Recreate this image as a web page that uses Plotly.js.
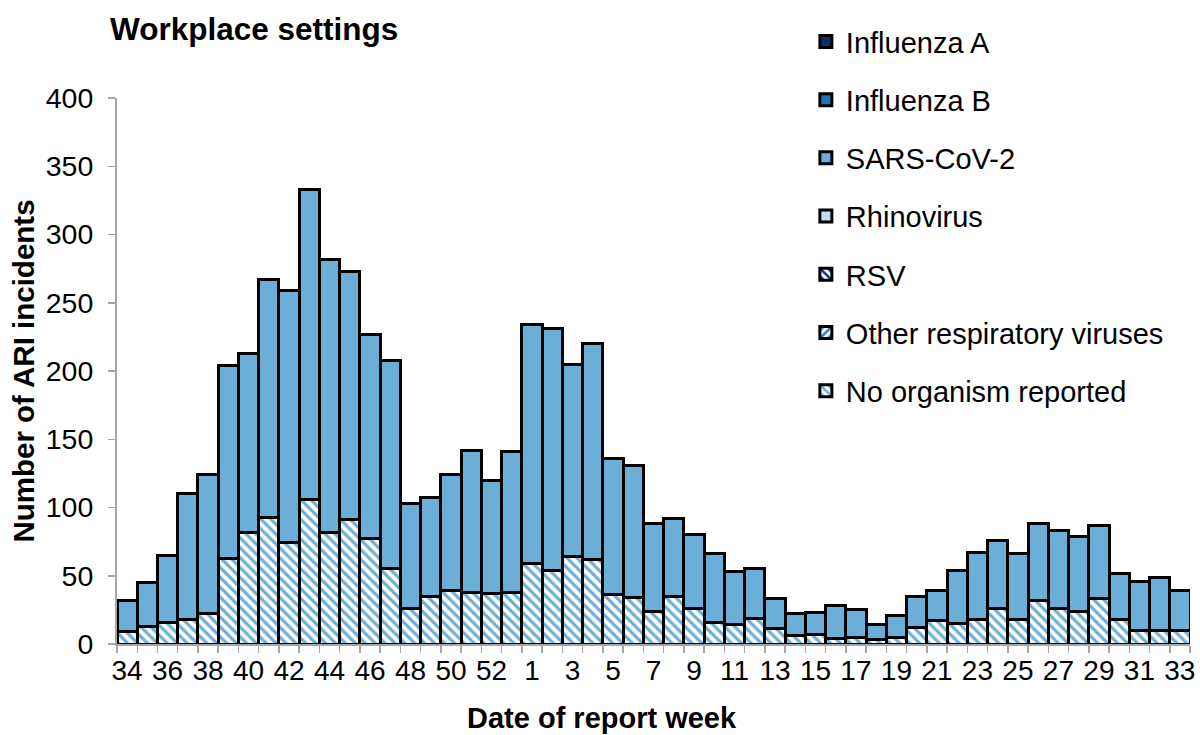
<!DOCTYPE html>
<html>
<head>
<meta charset="utf-8">
<script src="https://cdn.plot.ly/plotly-3.0.1.min.js"></script>
<style>html,body{margin:0;padding:0;background:#fff}#chart{width:1200px;height:735px}</style>
</head>
<body>
<div id="chart"></div>
<script>
const weeks = ["34","35","36","37","38","39","40","41","42","43","44","45","46","47","48","49","50","51","52","53",
  "1","2","3","4","5","6","7","8","9","10","11","12","13","14","15","16","17","18","19","20",
  "21","22","23","24","25","26","27","28","29","30","31","32","33"];

const influenzaA = [0,0,0,0,0,0,0,0,0,0,0,0,0,0,0,0,0,0,0,0,0,0,0,0,0,0,0,0,0,0,0,0,0,0,0,0,0,0,0,0,0,0,0,0,0,0,0,0,0,0,0,0,0];
const influenzaB = [0,0,0,0,0,0,0,0,0,0,0,0,0,0,0,0,0,0,0,0,0,0,0,0,0,0,0,0,0,0,0,0,0,0,0,0,0,0,0,0,0,0,0,0,0,0,0,0,0,0,0,0,0];
const sarsCoV2 = [23,32,49,92,102,141,131,174,185,227,200,182,150,153,77,72,85,104,83,103,
  175,177,141,158,100,97,64,57,54,50,39,36,22,16,16,24,20,11,16,23,
  22,39,49,50,48,56,57,55,54,34,36,39,29];
const rhinovirus = [0,0,0,0,0,0,0,0,0,0,0,0,0,0,0,0,0,0,0,0,0,0,0,0,0,0,0,0,0,0,0,0,0,0,0,0,0,0,0,0,0,0,0,0,0,0,0,0,0,0,0,0,0];
const rsv = [0,0,0,0,0,0,0,0,0,0,0,0,0,0,0,0,0,0,0,0,0,0,0,0,0,0,0,0,0,0,0,0,0,0,0,0,0,0,0,0,0,0,0,0,0,0,0,0,0,0,0,0,0];
const otherResp = [0,0,0,0,0,0,0,0,0,0,0,0,0,0,0,0,0,0,0,0,0,0,0,0,0,0,0,0,0,0,0,0,0,0,0,0,0,0,0,0,0,0,0,0,0,0,0,0,0,0,0,0,0];
const noOrganism = [9,13,16,18,22,63,82,93,74,106,82,91,77,55,26,35,39,38,37,38,
  59,54,64,62,36,34,24,35,26,16,14,19,11,6,7,4,5,3,5,12,
  17,15,18,26,18,32,26,24,33,18,10,10,10];

const xIdx = weeks.map((w, i) => i);
const labelIdx = xIdx.filter(i => i % 2 === 0);
const labelText = labelIdx.map(i => weeks[i]);

const FONT = '"Liberation Sans", Arial, sans-serif';
const outline = {color: '#000000', width: 3};

function bar(name, y, color, rank, pattern) {
  const marker = {color: color, line: outline};
  if (pattern) marker.pattern = pattern;
  return {type: 'bar', name: name, x: xIdx, y: y, marker: marker, legendgroup: name, legendrank: rank,
          hovertemplate: name + ': %{y}<extra></extra>'};
}

const traces = [
  bar('No organism reported', noOrganism, '#ffffff', 7, {shape: '\\', fgcolor: '#6baed6', bgcolor: '#ffffff', size: 7, solidity: 0.45, fillmode: 'replace'}),
  bar('Other respiratory viruses', otherResp, '#ffffff', 6, {shape: '/', fgcolor: '#2b7bba', bgcolor: '#ffffff', size: 7, solidity: 0.45, fillmode: 'replace'}),
  bar('RSV', rsv, '#ffffff', 5, {shape: '\\', fgcolor: '#08306b', bgcolor: '#ffffff', size: 7, solidity: 0.45, fillmode: 'replace'}),
  bar('Rhinovirus', rhinovirus, '#c6dbef', 4),
  bar('SARS-CoV-2', sarsCoV2, '#6baed6', 3),
  bar('Influenza B', influenzaB, '#2171b5', 2),
  bar('Influenza A', influenzaA, '#08306b', 1)
];

const layout = {
  width: 1200, height: 735,
  paper_bgcolor: '#ffffff', plot_bgcolor: '#ffffff',
  font: {family: FONT, size: 28, color: '#000000'},
  margin: {l: 117, r: 10, t: 98, b: 91},
  barmode: 'stack', bargap: 0,
  title: {text: '<b>Workplace settings</b>', x: 110/1200, xanchor: 'left', xref: 'container',
          y: 1 - 29/735, yanchor: 'middle', yref: 'container',
          font: {family: FONT, size: 31.5, color: '#000000'}},
  xaxis: {
    range: [-0.5, weeks.length - 0.5],
    tickmode: 'array', tickvals: labelIdx, ticktext: labelText,
    ticks: '', showgrid: false, zeroline: false,
    showline: true, linecolor: '#a6a6a6', linewidth: 2,
    tickfont: {family: FONT, size: 28, color: '#000000'},
    minor: {tickmode: 'linear', tick0: -0.5, dtick: 1, ticks: 'outside', ticklen: 7, tickwidth: 1.5, tickcolor: '#a6a6a6', showgrid: false},
    fixedrange: true
  },
  yaxis: {
    range: [0, 400], dtick: 50, tick0: 0,
    ticks: 'outside', ticklen: 7, tickwidth: 1.5, tickcolor: '#a6a6a6',
    ticklabelstandoff: 9,
    showgrid: false, zeroline: false,
    showline: true, linecolor: '#a6a6a6', linewidth: 2,
    tickfont: {family: FONT, size: 28.5, color: '#000000'},
    title: {text: '<b>Number of ARI incidents</b>', font: {family: FONT, size: 29.5, color: '#000000'}, standoff: 2},
    fixedrange: true
  },
  annotations: [{
    text: '<b>Date of report week</b>', showarrow: false,
    xref: 'paper', x: (602 - 117) / 1073, xanchor: 'center',
    yref: 'paper', y: (644 - 718) / 546, yanchor: 'middle',
    font: {family: FONT, size: 29, color: '#000000'}
  }],
  legend: {
    x: 0.642, y: 1.15, xanchor: 'left', yanchor: 'top',
    traceorder: 'grouped', tracegroupgap: 17.5, maxheight: 900,
    bgcolor: 'rgba(0,0,0,0)', borderwidth: 0,
    font: {family: FONT, size: 29, color: '#000000'},
    itemwidth: 30
  },
  showlegend: true
};

Plotly.newPlot('chart', traces, layout, {displayModeBar: false, staticPlot: true});
</script>
</body>
</html>
